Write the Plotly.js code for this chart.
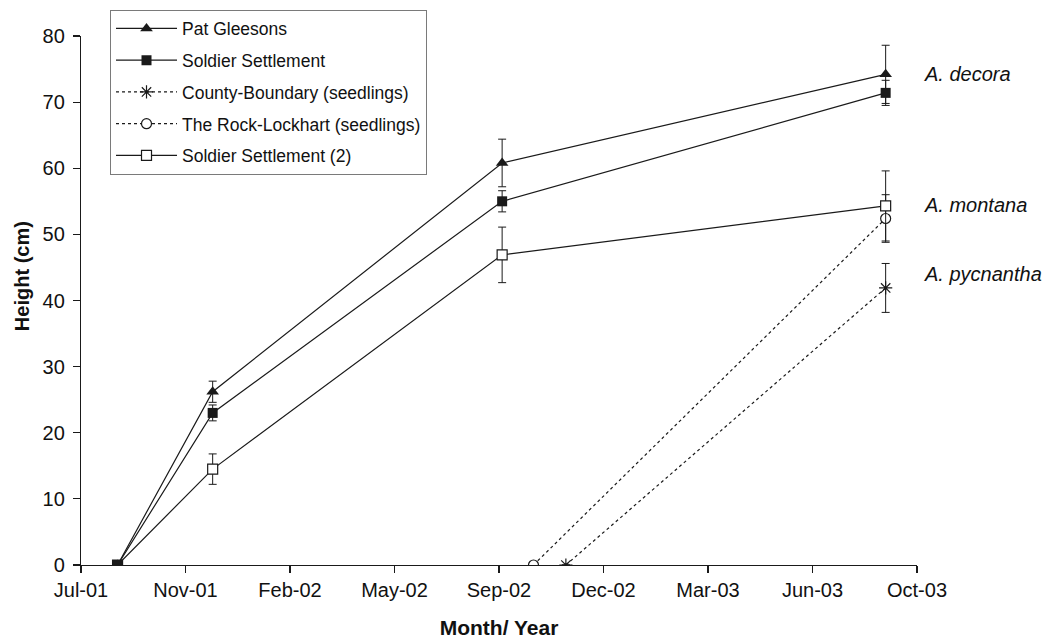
<!DOCTYPE html>
<html>
<head>
<meta charset="utf-8">
<script src="https://cdn.plot.ly/plotly-3.0.1.min.js"></script>
<style>
  html, body { margin: 0; padding: 0; background: #fff; }
  #chart { width: 1049px; height: 643px; }
</style>
</head>
<body>
<div id="chart"></div>
<script>
// ---- data ----
const tickDates = ['2001-07-29','2001-11-06','2002-02-14','2002-05-25','2002-09-02','2002-12-11','2003-03-21','2003-06-29','2003-10-07'];
const tickLabels = ['Jul-01','Nov-01','Feb-02','May-02','Sep-02','Dec-02','Mar-03','Jun-03','Oct-03'];

const plantDates = ['2001-09-02','2001-12-02','2002-09-05','2003-09-07'];

const patGleesons = [0, 26.2, 60.8, 74.2];
const patGleesonsErr = [0, 1.6, 3.6, 4.4];

const soldierSettlement = [0, 23.0, 55.0, 71.4];
const soldierSettlementErr = [0, 1.2, 1.6, 1.9];

const countyDates = ['2002-11-05','2003-09-07'];
const countyBoundary = [0, 41.9];
const countyBoundaryErr = [0, 3.7];

const rockDates = ['2002-10-05','2003-09-07'];
const rockLockhart = [0, 52.4];
const rockLockhartErr = [0, 3.6];

const soldierSettlement2 = [0, 14.5, 46.9, 54.3];
const soldierSettlement2Err = [0, 2.3, 4.2, 5.3];

const speciesLabels = ['A. decora','A. montana','A. pycnantha'];
const speciesY = [74.2, 54.4, 44.0];

// ---- styling ----
const ink = '#1a1a1a';
const fontFam = 'Liberation Sans, Arial, sans-serif';
function errBar(arr) {
  return {type: 'data', array: arr, visible: true, color: ink, thickness: 1, width: 4};
}

// drawing order: seedlings first, filled series last (legend order set by legendrank)
const traces = [
  {
    name: 'County-Boundary (seedlings)', x: countyDates, y: countyBoundary,
    legendgroup: 'c', legendrank: 3,
    mode: 'lines+markers', line: {color: ink, width: 1.2, dash: 'dot'},
    marker: {symbol: 'asterisk-open', size: 11, color: ink, line: {color: ink, width: 1.2}},
    error_y: errBar(countyBoundaryErr)
  },
  {
    name: 'The Rock-Lockhart (seedlings)', x: rockDates, y: rockLockhart,
    legendgroup: 'd', legendrank: 4,
    mode: 'lines+markers', line: {color: ink, width: 1.2, dash: 'dot'},
    marker: {symbol: 'circle', size: 10, color: '#fff', line: {color: ink, width: 1.2}},
    error_y: errBar(rockLockhartErr)
  },
  {
    name: 'Soldier Settlement (2)', x: plantDates, y: soldierSettlement2,
    legendgroup: 'e', legendrank: 5,
    mode: 'lines+markers', line: {color: ink, width: 1.2},
    marker: {symbol: 'square', size: 10, color: '#fff', line: {color: ink, width: 1.2}},
    error_y: errBar(soldierSettlement2Err)
  },
  {
    name: 'Pat Gleesons', x: plantDates, y: patGleesons,
    legendgroup: 'a', legendrank: 1,
    mode: 'lines+markers', line: {color: ink, width: 1.2},
    marker: {symbol: 'triangle-up', size: 11, color: ink},
    error_y: errBar(patGleesonsErr)
  },
  {
    name: 'Soldier Settlement', x: plantDates, y: soldierSettlement,
    legendgroup: 'b', legendrank: 2,
    mode: 'lines+markers', line: {color: ink, width: 1.2},
    marker: {symbol: 'square', size: 10, color: ink},
    error_y: errBar(soldierSettlementErr)
  }
];

const annotations = speciesLabels.map((t, i) => ({
  text: '<i>' + t + '</i>', xref: 'paper', yref: 'y', x: 1.006, y: speciesY[i],
  xanchor: 'left', yanchor: 'middle', showarrow: false,
  font: {family: fontFam, size: 20, color: '#111'}
}));
annotations.push({
  text: '<b>Height (cm)</b>', xref: 'paper', yref: 'paper', x: -0.0706, y: 0.546,
  xanchor: 'center', yanchor: 'middle', textangle: -90, showarrow: false,
  font: {family: fontFam, size: 20, color: '#111'}
});

const layout = {
  width: 1049, height: 643,
  margin: {l: 81, r: 132, t: 36, b: 78, autoexpand: false},
  paper_bgcolor: '#fff', plot_bgcolor: '#fff',
  font: {family: fontFam, size: 20, color: '#111'},
  showlegend: true,
  legend: {
    x: 0.0347, y: 1.05, xanchor: 'left', yanchor: 'top',
    bgcolor: '#fff', bordercolor: '#7a7a7a', borderwidth: 1,
    font: {family: fontFam, size: 17.5, color: '#111'},
    traceorder: 'grouped', tracegroupgap: 6, itemwidth: 61
  },
  xaxis: {
    type: 'date', range: [tickDates[0], tickDates[tickDates.length - 1]],
    tickmode: 'array', tickvals: tickDates, ticktext: tickLabels,
    showgrid: false, zeroline: false, showline: true, linecolor: ink, linewidth: 1.2,
    ticks: 'outside', ticklen: 7, tickcolor: ink, tickwidth: 1.2,
    tickfont: {size: 20, color: '#111'},
    title: {text: '<b>Month/ Year</b>', font: {size: 21, color: '#111'}, standoff: 20}
  },
  yaxis: {
    range: [0, 80], dtick: 10, tick0: 0,
    showgrid: false, zeroline: false, showline: true, linecolor: ink, linewidth: 1.2,
    ticks: 'outside', ticklen: 7, tickcolor: ink, tickwidth: 1.2,
    tickfont: {size: 20, color: '#111'}, ticklabelstandoff: 4
  },
  annotations: annotations
};

Plotly.newPlot('chart', traces, layout, {displayModeBar: false, staticPlot: true});
</script>
</body>
</html>
